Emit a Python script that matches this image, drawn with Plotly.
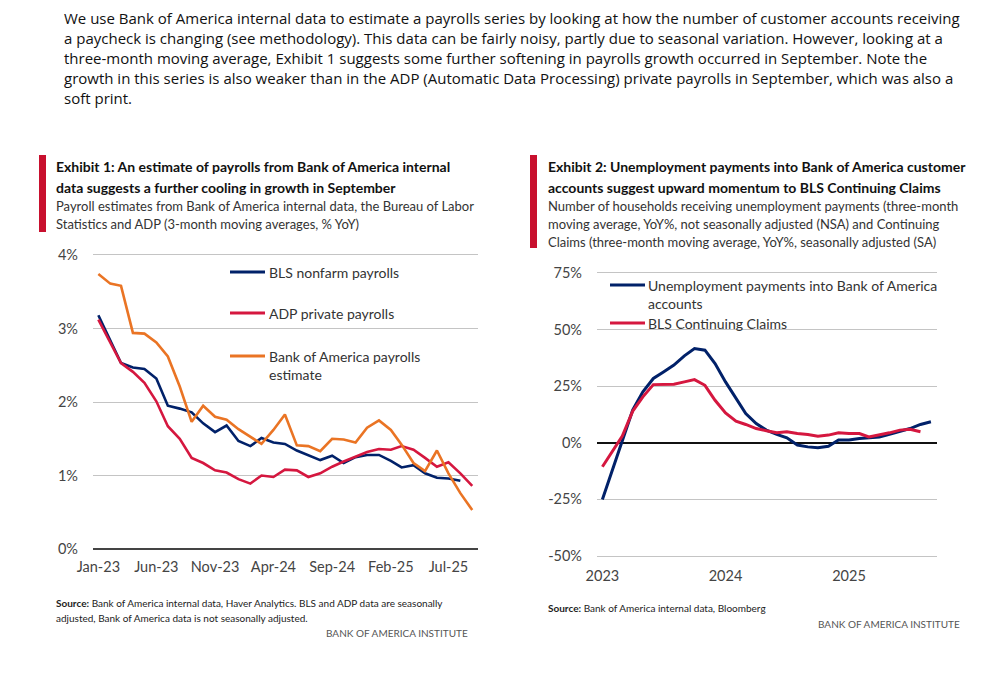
import plotly.graph_objects as go
import pandas as pd

# ---------------- data ----------------
months1 = pd.date_range("2023-01-01", periods=33, freq="MS")
bls_nonfarm = [3.18, 2.84, 2.53, 2.47, 2.45, 2.32, 1.95, 1.91, 1.86, 1.71, 1.59, 1.68,
               1.47, 1.40, 1.51, 1.45, 1.43, 1.34, 1.28, 1.21, 1.27, 1.17, 1.25, 1.28,
               1.28, 1.20, 1.11, 1.14, 1.03, 0.97, 0.96, 0.93]
adp_private = [3.12, 2.80, 2.53, 2.41, 2.26, 2.01, 1.67, 1.50, 1.24, 1.17, 1.07, 1.04,
               0.95, 0.89, 1.00, 0.98, 1.08, 1.07, 0.98, 1.03, 1.12, 1.19, 1.26, 1.32,
               1.36, 1.35, 1.40, 1.35, 1.24, 1.12, 1.18, 1.03, 0.86]
bofa_payrolls = [3.74, 3.61, 3.58, 2.94, 2.93, 2.81, 2.62, 2.21, 1.73, 1.95, 1.80, 1.76,
                 1.63, 1.53, 1.43, 1.62, 1.83, 1.41, 1.40, 1.33, 1.50, 1.49, 1.45, 1.65,
                 1.75, 1.62, 1.42, 1.17, 1.06, 1.34, 1.03, 0.76, 0.53]
ticks1_vals = ["2023-01-01", "2023-06-01", "2023-11-01", "2024-04-01", "2024-09-01",
               "2025-02-01", "2025-07-01"]
ticks1_text = ["Jan-23", "Jun-23", "Nov-23", "Apr-24", "Sep-24", "Feb-25", "Jul-25"]
y1_vals = [0, 1, 2, 3, 4]
y1_text = ["0%", "1%", "2%", "3%", "4%"]

months2 = pd.date_range("2023-01-01", periods=33, freq="MS")
unemp_bofa = [-25.0, -11.5, 1.5, 14.5, 22.5, 28.4, 31.3, 34.3, 38.4, 41.6, 40.9, 35.0,
              26.9, 19.6, 12.9, 8.5, 5.6, 3.7, 2.2, -1.0, -1.8, -2.2, -1.5, 1.2,
              1.2, 1.9, 2.2, 2.6, 3.8, 4.9, 6.3, 8.1, 9.3]
bls_claims = [-10.6, -3.5, 3.0, 14.0, 20.3, 25.7, 25.9, 25.9, 26.9, 27.9, 25.4, 18.8,
              13.2, 9.6, 8.1, 6.3, 5.3, 4.4, 4.9, 4.1, 3.7, 2.9, 3.4, 4.4,
              4.1, 4.1, 2.6, 3.4, 4.4, 5.6, 6.0, 4.9]
ticks2_vals = ["2023-01-01", "2024-01-01", "2025-01-01"]
ticks2_text = ["2023", "2024", "2025"]
y2_vals = [-50, -25, 0, 25, 50, 75]
y2_text = ["-50%", "-25%", "0%", "25%", "50%", "75%"]

paragraph = [
    "We use Bank of America internal data to estimate a payrolls series by looking at how the number of customer accounts receiving",
    "a paycheck is changing (see methodology). This data can be fairly noisy, partly due to seasonal variation. However, looking at a",
    "three-month moving average, Exhibit 1 suggests some further softening in payrolls growth occurred in September. Note the",
    "growth in this series is also weaker than in the ADP (Automatic Data Processing) private payrolls in September, which was also a",
    "soft print.",
]
title1 = ["Exhibit 1: An estimate of payrolls from Bank of America internal",
          "data suggests a further cooling in growth in September"]
sub1 = ["Payroll estimates from Bank of America internal data, the Bureau of Labor",
        "Statistics and ADP (3-month moving averages, % YoY)"]
title2 = ["Exhibit 2: Unemployment payments into Bank of America customer",
          "accounts suggest upward momentum to BLS Continuing Claims"]
sub2 = ["Number of households receiving unemployment payments (three-month",
        "moving average, YoY%, not seasonally adjusted (NSA) and Continuing",
        "Claims (three-month moving average, YoY%, seasonally adjusted (SA)"]
source1 = ["<b>Source:</b> Bank of America internal data, Haver Analytics. BLS and ADP data are seasonally",
           "adjusted, Bank of America data is not seasonally adjusted."]
source2 = ["<b>Source:</b> Bank of America internal data, Bloomberg"]
brand = "BANK OF AMERICA INSTITUTE"
legend1 = ["BLS nonfarm payrolls", "ADP private payrolls", "Bank of America payrolls<br>estimate"]
legend2 = ["Unemployment payments into Bank of America<br>accounts", "BLS Continuing Claims"]

# ---------------- style ----------------
W, H = 1000, 687
NAVY = "#012169"
RED = "#d5173f"
ORANGE = "#ea7424"
GRID = "#c4c4c4"
TXT = "#333333"
NARROW = "Lato, Roboto, sans-serif"
BODY = "Open Sans, Noto Sans, sans-serif"


def fx(px):
    return px / W


def fy(py):
    return 1 - py / H


fig = go.Figure()

fig.add_trace(go.Scatter(x=months1[:len(bls_nonfarm)], y=bls_nonfarm, mode="lines",
                         line=dict(color=NAVY, width=2.6), xaxis="x", yaxis="y", showlegend=False))
fig.add_trace(go.Scatter(x=months1[:len(adp_private)], y=adp_private, mode="lines",
                         line=dict(color=RED, width=2.6), xaxis="x", yaxis="y", showlegend=False))
fig.add_trace(go.Scatter(x=months1[:len(bofa_payrolls)], y=bofa_payrolls, mode="lines",
                         line=dict(color=ORANGE, width=2.6), xaxis="x", yaxis="y", showlegend=False))

fig.add_trace(go.Scatter(x=months2[:len(unemp_bofa)], y=unemp_bofa, mode="lines",
                         line=dict(color=NAVY, width=3), xaxis="x2", yaxis="y2", showlegend=False))
fig.add_trace(go.Scatter(x=months2[:len(bls_claims)], y=bls_claims, mode="lines",
                         line=dict(color=RED, width=3), xaxis="x2", yaxis="y2", showlegend=False))

axis_font = dict(family=NARROW, size=14.5, color="#444444")

fig.update_layout(
    width=W, height=H,
    margin=dict(l=0, r=0, t=0, b=0, autoexpand=False),
    paper_bgcolor="white", plot_bgcolor="white",
    hovermode=False,
    xaxis=dict(domain=[fx(93), fx(478)], type="date",
               range=["2022-12-18", "2025-09-16"],
               tickvals=ticks1_vals, ticktext=ticks1_text, showgrid=False,
               zeroline=False, showline=False, ticks="", tickfont=axis_font,
               ticklabelstandoff=6, anchor="y", automargin=False),
    yaxis=dict(domain=[fy(550.5), fy(253.5)], range=[-0.02, 4.02],
               tickvals=y1_vals, ticktext=y1_text, showgrid=True, gridcolor=GRID,
               gridwidth=1.3, zeroline=True, zerolinecolor="#444444", zerolinewidth=1.8,
               showline=False, ticks="", tickfont=axis_font, ticklabelstandoff=14,
               anchor="x", automargin=False),
    xaxis2=dict(domain=[fx(597), fx(937)], type="date",
                range=["2022-12-16", "2025-09-19"],
                tickvals=ticks2_vals, ticktext=ticks2_text, showgrid=False,
                zeroline=False, showline=False, ticks="", tickfont=axis_font,
                ticklabelstandoff=7, anchor="y2", automargin=False),
    yaxis2=dict(domain=[fy(558.3), fy(270.7)], range=[-51, 76],
                tickvals=y2_vals, ticktext=y2_text, showgrid=True, gridcolor=GRID,
                gridwidth=1.3, zeroline=True, zerolinecolor="#111111", zerolinewidth=1.6,
                showline=False, ticks="", tickfont=axis_font, ticklabelstandoff=14,
                anchor="x2", automargin=False),
)

annotations = []
shapes = []


def text_line(txt, x, y, size, family, color=TXT, anchor="left"):
    annotations.append(dict(text=txt, x=fx(x), y=fy(y), xref="paper", yref="paper",
                            xanchor=anchor, yanchor="middle", showarrow=False,
                            align="left", font=dict(family=family, size=size, color=color)))


# paragraph
for i, line in enumerate(paragraph):
    text_line(line, 62, 18 + 20 * i, 15, BODY, color="#111111")

# exhibit headers
shapes.append(dict(type="rect", xref="paper", yref="paper", x0=fx(39), x1=fx(46),
                   y0=fy(232), y1=fy(155), fillcolor="#c8102e", line=dict(width=0)))
shapes.append(dict(type="rect", xref="paper", yref="paper", x0=fx(530), x1=fx(537),
                   y0=fy(248), y1=fy(155), fillcolor="#c8102e", line=dict(width=0)))
for i, line in enumerate(title1):
    text_line("<b>" + line + "</b>", 54, 167 + 20 * i, 14, NARROW, color="#111111")
for i, line in enumerate(sub1):
    text_line(line, 54, 206 + 18 * i, 13, NARROW)
for i, line in enumerate(title2):
    text_line("<b>" + line + "</b>", 546, 167 + 20 * i, 14, NARROW, color="#111111")
for i, line in enumerate(sub2):
    text_line(line, 546, 206 + 18 * i, 13, NARROW)

# legends
leg1_y = [272, 313, 356]
leg1_c = [NAVY, RED, ORANGE]
for lbl, yy, c in zip(legend1, leg1_y, leg1_c):
    shapes.append(dict(type="line", xref="paper", yref="paper", x0=fx(230), x1=fx(265),
                       y0=fy(yy), y1=fy(yy), line=dict(color=c, width=3)))
    annotations.append(dict(text=lbl, x=fx(267), y=fy(yy - 10), xref="paper", yref="paper",
                            xanchor="left", yanchor="top", showarrow=False, align="left",
                            font=dict(family=NARROW, size=14, color=TXT)))

leg2_y = [285, 323]
leg2_c = [NAVY, RED]
for lbl, yy, c in zip(legend2, leg2_y, leg2_c):
    shapes.append(dict(type="line", xref="paper", yref="paper", x0=fx(610), x1=fx(645),
                       y0=fy(yy), y1=fy(yy), line=dict(color=c, width=3)))
    annotations.append(dict(text=lbl, x=fx(646), y=fy(yy - 10), xref="paper", yref="paper",
                            xanchor="left", yanchor="top", showarrow=False, align="left",
                            font=dict(family=NARROW, size=14, color=TXT)))

# sources
for i, line in enumerate(source1):
    text_line(line, 54, 603 + 15 * i, 10, NARROW, color="#222222")
for i, line in enumerate(source2):
    text_line(line, 546, 608, 10, NARROW, color="#222222")
text_line(brand, 470, 633, 10, NARROW, color="#555555", anchor="right")
text_line(brand, 962, 624, 10, NARROW, color="#555555", anchor="right")

fig.update_layout(annotations=annotations, shapes=shapes)

fig.write_html("out.html", config={"displayModeBar": False},
               post_script="document.body.style.margin='0px';")
